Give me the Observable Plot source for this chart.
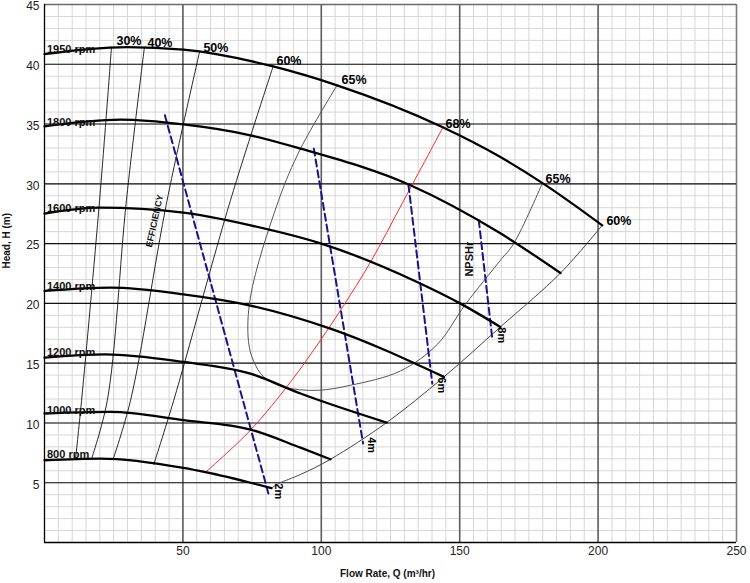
<!DOCTYPE html>
<html>
<head>
<meta charset="utf-8">
<script src="https://cdn.jsdelivr.net/npm/d3@7"></script>
<script src="https://cdn.jsdelivr.net/npm/@observablehq/plot@0.6"></script>
<style>
  html, body { margin: 0; padding: 0; background: #fff; }
  #chart svg { display: block; }
</style>
</head>
<body>
<div id="chart"></div>
<script>
// ---------- data ----------
const xTicks = [50, 100, 150, 200, 250];
const yTicks = [5, 10, 15, 20, 25, 30, 35, 40, 45];
const xLabel = "Flow Rate, Q (m\u00B3/hr)";
const yLabel = "Head, H (m)";

// pump speed curves
const speedNames = ["1950 rpm", "1800 rpm", "1600 rpm", "1400 rpm", "1200 rpm", "1000 rpm", "800 rpm"];
const speedQ = [
  [0, 15, 30, 50.2, 82.6, 105.7, 143.7, 164.7, 180.2, 201.5],
  [0, 27.5, 50.2, 74.4, 92.5, 132.2, 164.7, 186.4],
  [0, 20.2, 50.2, 74.4, 100, 134.6, 150.3, 164.7],
  [0, 23.8, 50.2, 74.4, 103.3, 144.3],
  [0, 22.0, 50.2, 74.4, 92.5, 123.6],
  [0, 23.8, 50.2, 74.4, 92.5, 103.3],
  [0, 20.2, 50.2, 58.2, 82.0]
];
const speedH = [
  [40.85, 41.25, 41.44, 41.22, 39.82, 38.24, 34.75, 32.24, 30.02, 26.53],
  [34.81, 35.37, 34.97, 34.06, 32.94, 29.88, 25.86, 22.54],
  [27.51, 28.01, 27.59, 26.53, 25.0, 21.79, 19.98, 18.03],
  [21.04, 21.32, 20.76, 19.82, 17.89, 13.85],
  [15.47, 15.74, 15.10, 14.13, 12.46, 10.03],
  [10.79, 10.92, 10.23, 9.45, 7.93, 6.96],
  [6.88, 7.02, 6.24, 5.88, 4.55]
];
const speedLabelH = [41.25, 35.1, 27.93, 21.43, 15.89, 11.06, 7.38];

// iso-efficiency curves
const eff30Q = [24.2, 19.9, 13.4, 11.2];
const eff30H = [41.44, 28.63, 11.9, 6.95];
const eff40Q = [36.1, 29.6, 22.7, 17.0];
const eff40H = [41.44, 28.63, 11.9, 7.0];
const eff50Q = [56.0, 44.3, 31.1, 24.8];
const eff50H = [41.02, 28.63, 11.9, 6.97];
const eff60Q = [82.6, 67.2, 46.7, 39.5];
const eff60H = [39.82, 28.63, 11.9, 6.55];
const eff65Q = [105.7, 92.5, 84.6, 74.4, 73.7, 75.5, 79.2, 86.3, 98.5, 110.5, 128.6, 142, 152, 164.7, 169.5, 179.8];
const eff65H = [38.24, 32.94, 28.63, 20.54, 16.8, 15.2, 13.85, 13.01, 12.73, 13.15, 14.35, 16.6, 19.9, 23.6, 25.0, 30.02];
const eff68Q = [143.7, 129.8, 117.8, 108.1, 99.7, 88.9, 74.4, 58.2];
const eff68H = [34.61, 28.62, 23.46, 19.84, 16.92, 13.43, 9.39, 5.88];
const edgeQ = [201.5, 186.4, 164.7, 144.3, 123.6, 103.3, 92.5, 84.6, 82.0];
const edgeH = [26.53, 22.54, 18.03, 13.85, 10.03, 6.96, 5.69, 4.93, 4.55];

const effLabels = ["30%", "40%", "50%", "60%", "65%", "68%", "65%", "60%"];
const effLabelQ = [26.0, 37.2, 57.4, 83.8, 107.3, 144.9, 181.0, 203.0];
const effLabelH = [41.92, 41.75, 41.35, 40.24, 38.65, 34.99, 30.38, 26.87];

// NPSHr lines
const npshNames = ["2m", "4m", "6m", "8m"];
const npshQ = [[43.5, 81.0], [97.3, 115.1], [131.5, 140.1], [156.9, 161.7]];
const npshH = [[35.73, 4.01], [32.94, 8.28], [29.9, 13.29], [26.95, 17.19]];
const npshLabelQ = [84.5, 118.1, 143.4, 165.1];
const npshLabelH = [4.29, 8.14, 13.15, 17.33];

const notes = [
  {text: "EFFICIENCY", q: 39.8, h: 26.9, angle: -77.5, size: 9},
  {text: "NPSHr", q: 153.6, h: 23.7, angle: -90, size: 11}
];

// ---------- build tables ----------
const pts = (Q, H, extra) => Q.map((q, i) => ({q, h: H[i], ...extra}));
const speedData = speedNames.flatMap((s, i) => pts(speedQ[i], speedH[i], {s}));
const speedLabelData = speedNames.map((s, i) => ({s, q: 0.9, h: speedLabelH[i]}));
const thinEff = [
  ...pts(eff30Q, eff30H, {k: "30"}),
  ...pts(eff40Q, eff40H, {k: "40"}),
  ...pts(eff50Q, eff50H, {k: "50"}),
  ...pts(eff60Q, eff60H, {k: "60"})
];
const effLabelData = effLabels.map((t, i) => ({t, q: effLabelQ[i], h: effLabelH[i]}));
const npshData = npshNames.flatMap((n, i) => pts(npshQ[i], npshH[i], {n}));
const npshLabelData = npshNames.map((n, i) => ({n, q: npshLabelQ[i], h: npshLabelH[i]}));

const font = "'Liberation Sans', Arial, sans-serif";

const chart = Plot.plot({
  width: 750,
  height: 583,
  marginLeft: 44,
  marginRight: 14,
  marginTop: 4,
  marginBottom: 41,
  style: {fontFamily: font, background: "#fff", overflow: "visible"},
  x: {domain: [0, 250]},
  y: {domain: [0, 45]},
  marks: [
    // minor grid
    Plot.ruleX(d3.range(5, 250, 5), {stroke: "#d6d6d6", strokeWidth: 1}),
    Plot.ruleY(d3.range(1, 45, 1), {stroke: "#d6d6d6", strokeWidth: 1}),
    // major grid
    Plot.ruleX([50, 100, 150, 200], {stroke: "#5e5e5e", strokeWidth: 1.6}),
    Plot.ruleX([250], {stroke: "#7a7a7a", strokeWidth: 1.6}),
    Plot.ruleY([5, 10, 15, 20, 25, 30, 35, 40], {stroke: "#111", strokeWidth: 1.1}),
    Plot.ruleY([45], {stroke: "#6a6a6a", strokeWidth: 1.4}),
    Plot.ruleX([0], {stroke: "#000", strokeWidth: 1.3}),
    Plot.ruleY([0], {stroke: "#000", strokeWidth: 1.3}),
    // axes
    Plot.axisX(xTicks, {tickSize: 0, tickPadding: 4, fontSize: 12, fill: "#222", label: null}),
    Plot.axisY(yTicks, {tickSize: 0, tickPadding: 5, dy: 2, fontSize: 12, fill: "#222", label: null}),
    Plot.text([yLabel], {frameAnchor: "left", dx: -37.5, dy: -5, rotate: -90, fontSize: 10, fontWeight: "bold", fill: "#111"}),
    Plot.text([xLabel], {frameAnchor: "bottom", dx: -3, dy: 34, fontSize: 10, fontWeight: "bold", fill: "#111"}),
    // iso-efficiency
    Plot.line(thinEff, {x: "q", y: "h", z: "k", stroke: "#111", strokeWidth: 0.9, curve: "catmull-rom"}),
    Plot.line(pts(eff65Q, eff65H, {}), {x: "q", y: "h", stroke: "#555", strokeWidth: 1, curve: "catmull-rom"}),
    Plot.line(pts(edgeQ, edgeH, {}), {x: "q", y: "h", stroke: "#444", strokeWidth: 1, curve: "catmull-rom"}),
    Plot.line(pts(eff68Q, eff68H, {}), {x: "q", y: "h", stroke: "#ff2a2a", strokeWidth: 1, curve: "catmull-rom"}),
    // NPSHr dashed
    Plot.line(npshData, {x: "q", y: "h", z: "n", stroke: "#16168a", strokeWidth: 2, strokeDasharray: "7,4"}),
    // speed curves
    Plot.line(speedData, {x: "q", y: "h", z: "s", stroke: "#000", strokeWidth: 2.3, curve: "monotone-x"}),
    // labels
    Plot.text(speedLabelData, {x: "q", y: "h", text: "s", textAnchor: "start", fontSize: 11, fontWeight: "bold", fill: "#111"}),
    Plot.text(effLabelData, {x: "q", y: "h", text: "t", textAnchor: "start", fontSize: 12.5, fontWeight: "bold", fill: "#000"}),
    Plot.text(npshLabelData, {x: "q", y: "h", text: "n", rotate: 90, fontSize: 11, fontWeight: "bold", fill: "#000"}),
    Plot.text(notes.slice(0, 1), {x: "q", y: "h", text: "text", rotate: -77.5, fontSize: 9, fontWeight: "bold", fill: "#111"}),
    Plot.text(notes.slice(1), {x: "q", y: "h", text: "text", rotate: -90, fontSize: 11, fontWeight: "bold", fill: "#111"})
  ]
});
document.getElementById("chart").appendChild(chart);
</script>
</body>
</html>
